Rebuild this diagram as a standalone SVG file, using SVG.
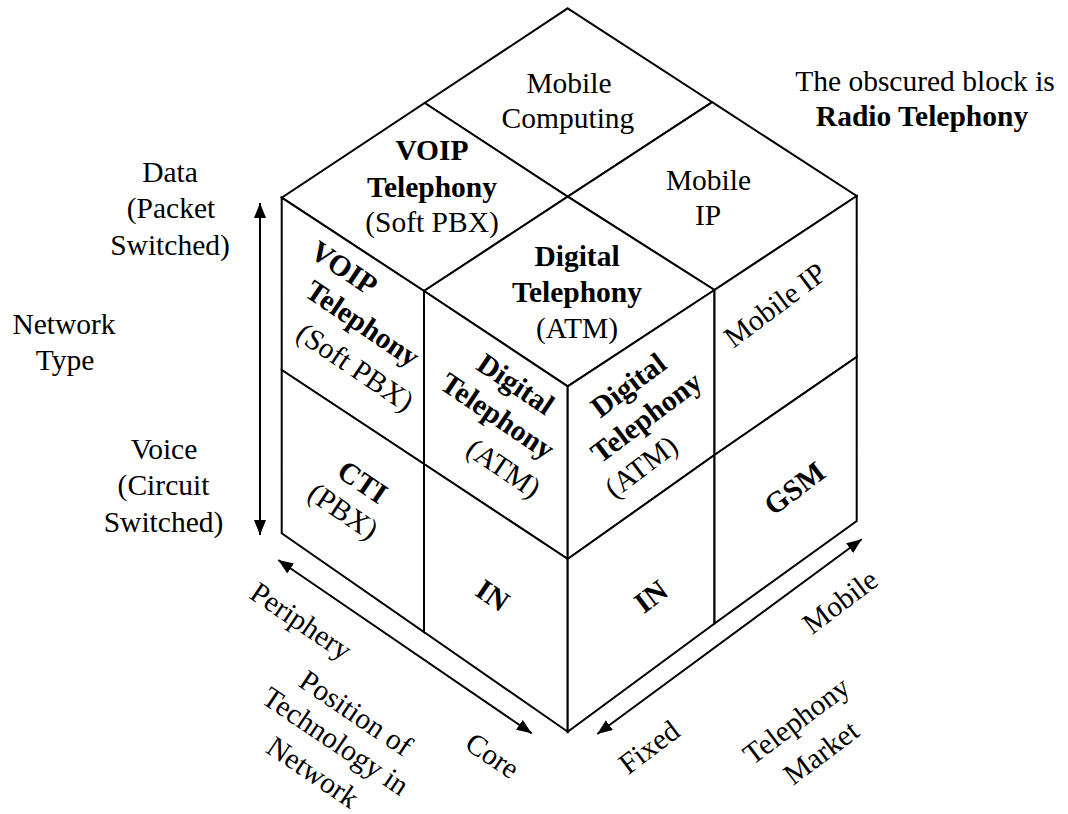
<svg xmlns="http://www.w3.org/2000/svg" width="1068" height="814" viewBox="0 0 1068 814">
  <style>
    text { font-family: "Liberation Serif", "Times New Roman", serif; font-size: 29.5px; fill: #000; text-anchor: middle; }
    .b { font-weight: bold; }
    .cell { fill: #fff; stroke: #000; stroke-width: 2; stroke-linejoin: miter; }
    .axis { fill: none; stroke: #000; stroke-width: 2; marker-start: url(#ah); marker-end: url(#ah); }
  </style>
  <defs>
    <marker id="ah" viewBox="0 0 15 12" refX="15" refY="6" markerWidth="15" markerHeight="12" markerUnits="userSpaceOnUse" orient="auto-start-reverse">
      <path d="M0,0 L15,6 L0,12 z" fill="#000"/>
    </marker>
  </defs>
  <rect width="1068" height="814" fill="#fff"/>

  <!-- top face -->
  <g id="mobile-computing">
    <polygon class="cell" points="567.7,8.3 712.2,102.2 567.7,196.7 424.7,103"/>
    <text x="569" y="93">Mobile</text>
    <text x="568" y="128">Computing</text>
  </g>
  <g id="voip-top">
    <polygon class="cell" points="424.7,103 567.7,196.7 424,291 281.7,197.7"/>
    <text class="b" x="432" y="160">VOIP</text>
    <text class="b" x="432" y="197">Telephony</text>
    <text x="432" y="232">(Soft PBX)</text>
  </g>
  <g id="mobile-ip-top">
    <polygon class="cell" points="712.2,102.2 856.7,196 714.5,290 567.7,196.7"/>
    <text x="708.5" y="190">Mobile</text>
    <text x="708" y="225">IP</text>
  </g>
  <g id="digital-top">
    <polygon class="cell" points="567.7,196.7 714.5,290 567.7,386.3 424,291"/>
    <text class="b" x="577" y="266">Digital</text>
    <text class="b" x="577" y="302">Telephony</text>
    <text x="577" y="338">(ATM)</text>
  </g>

  <!-- left face -->
  <g id="voip-left">
    <polygon class="cell" points="281.7,197.7 424,291 424,464 281.7,370"/>
    <text class="b" transform="translate(344,268) rotate(34)" y="9.8">VOIP</text>
    <text class="b" transform="translate(361,326) rotate(34)" y="6.9">Telephony</text>
    <text transform="translate(354,369) rotate(34)" y="7.6">(Soft PBX)</text>
  </g>
  <g id="digital-left">
    <polygon class="cell" points="424,291 567.7,386.3 567.7,559 424,464"/>
    <text class="b" transform="translate(514,386.5) rotate(34)" y="6.9">Digital</text>
    <text class="b" transform="translate(496,418.5) rotate(34)" y="6.9">Telephony</text>
    <text transform="translate(502.5,470) rotate(34)" y="7.6">(ATM)</text>
  </g>
  <g id="cti">
    <polygon class="cell" points="281.7,370 424,464 424,632 281.7,533.3"/>
    <text class="b" transform="translate(362.5,482) rotate(34)" y="9.8">CTI</text>
    <text transform="translate(342,513) rotate(34)" y="7.6">(PBX)</text>
  </g>
  <g id="in-left">
    <polygon class="cell" points="424,464 567.7,559 567.7,731.7 424,632"/>
    <text class="b" transform="translate(492.5,595.5) rotate(34)" y="9.8">IN</text>
  </g>

  <!-- right face -->
  <g id="digital-right">
    <polygon class="cell" points="567.7,386.3 714.5,290 714.5,455 567.7,559"/>
    <text class="b" transform="translate(630,387.5) rotate(-37)" y="6.9">Digital</text>
    <text class="b" transform="translate(648,419.5) rotate(-37)" y="6.9">Telephony</text>
    <text transform="translate(642.5,468.5) rotate(-37)" y="7.6">(ATM)</text>
  </g>
  <g id="mobile-ip-right">
    <polygon class="cell" points="714.5,290 856.7,196 856.7,357 714.5,455"/>
    <text transform="translate(775,305) rotate(-37)" y="10">Mobile IP</text>
  </g>
  <g id="in-right">
    <polygon class="cell" points="567.7,559 714.5,455 714.5,623.5 567.7,731.7"/>
    <text class="b" transform="translate(651,596.5) rotate(-37)" y="9.8">IN</text>
  </g>
  <g id="gsm">
    <polygon class="cell" points="714.5,455 856.7,357 856.7,521 714.5,623.5"/>
    <text class="b" transform="translate(794.5,488.5) rotate(-37)" y="9.8">GSM</text>
  </g>

  <!-- axes -->
  <g id="connectors">
    <line class="axis" x1="260" y1="203" x2="260" y2="535"/>
    <line class="axis" x1="278.3" y1="560" x2="531.7" y2="733.3"/>
    <line class="axis" x1="597.3" y1="734" x2="861.7" y2="539.3"/>
  </g>

  <!-- axis labels -->
  <g id="label-data">
    <text x="170" y="182">Data</text>
    <text x="171" y="218">(Packet</text>
    <text x="170" y="255">Switched)</text>
  </g>
  <g id="label-network-type">
    <text x="64" y="334">Network</text>
    <text x="65" y="370">Type</text>
  </g>
  <g id="label-voice">
    <text x="164" y="459">Voice</text>
    <text x="163.5" y="495">(Circuit</text>
    <text x="163.5" y="532">Switched)</text>
  </g>
  <g id="label-periphery">
    <text transform="translate(299.5,623.5) rotate(34)" y="6.9">Periphery</text>
  </g>
  <g id="label-position">
    <text transform="translate(356,713) rotate(34)" y="10">Position of</text>
    <text transform="translate(334,743.5) rotate(34)" y="6.9">Technology in</text>
    <text transform="translate(313,772) rotate(34)" y="10">Network</text>
  </g>
  <g id="label-core">
    <text transform="translate(492.5,755.5) rotate(34)" y="10">Core</text>
  </g>
  <g id="label-fixed">
    <text transform="translate(649,747) rotate(-37)" y="10">Fixed</text>
  </g>
  <g id="label-mobile">
    <text transform="translate(840,601.5) rotate(-37)" y="10">Mobile</text>
  </g>
  <g id="label-market">
    <text transform="translate(798,723) rotate(-37)" y="6.9">Telephony</text>
    <text transform="translate(821,752.5) rotate(-37)" y="10">Market</text>
  </g>
  <g id="note">
    <text x="925" y="91">The obscured block is</text>
    <text class="b" x="922" y="126">Radio Telephony</text>
  </g>
</svg>
